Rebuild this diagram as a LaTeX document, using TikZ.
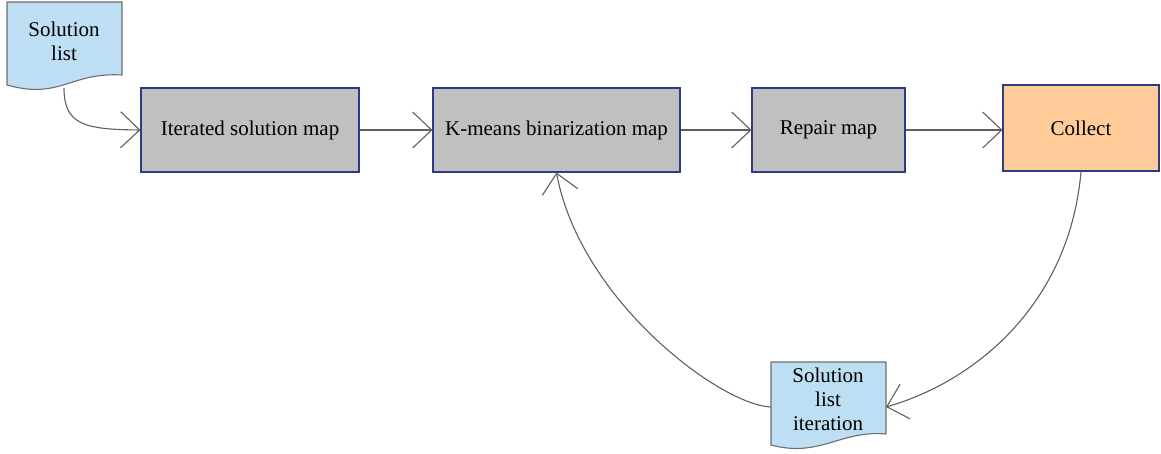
\documentclass[tikz,border=0pt]{standalone}
\usepackage{fontspec}
\setmainfont{Liberation Serif}
\usetikzlibrary{arrows.meta}
\definecolor{boxgray}{RGB}{192,192,192}
\definecolor{boxedge}{RGB}{46,58,135}
\definecolor{docblue}{RGB}{190,222,244}
\definecolor{docedge}{RGB}{110,110,110}
\definecolor{collectfill}{RGB}{255,204,153}
\definecolor{linegray}{RGB}{95,95,95}
\tikzset{
  procbox/.style={draw=boxedge, line width=1.1pt, fill=boxgray, inner sep=0pt, font=\fontsize{21}{24}\selectfont},
  doctext/.style={inner sep=0pt, align=center, font=\fontsize{21}{24}\selectfont},
  docshape/.style={draw=docedge, line width=1.1pt, fill=docblue},
  conn/.style={draw=linegray, line width=1.1pt, -{Straight Barb[length=19pt,width=36pt,line width=1.1pt]}},
}
\begin{document}
\begin{tikzpicture}[x=1pt,y=-1pt]
\useasboundingbox (0,0) rectangle (1161,454);
% Solution list document
\draw[docshape] (7,2) -- (122,2) -- (122,75) .. controls (70,72) and (60,100) .. (7,85) -- cycle;
\node[doctext] (sl) at (64,41) {Solution\\list};
\coordinate (slb) at (64,88);
% Solution list iteration document
\draw[docshape] (771,362) -- (886,362) -- (886,434) .. controls (840,430) and (820,458) .. (771,445) -- cycle;
\node[doctext] (sli) at (828,399) {Solution\\list\\iteration};
\coordinate (slie) at (886,407);
\coordinate (sliw) at (771,407);
% process boxes
\node[procbox, minimum width=218pt, minimum height=84pt] (ism) at (250,130) {Iterated solution map};
\node[procbox, minimum width=247pt, minimum height=84pt] (km) at (556.5,130) {K-means binarization map};
\node[procbox, minimum width=153pt, minimum height=84pt] (rm) at (828.5,130) {Repair map};
\node[procbox, fill=collectfill, minimum width=156pt, minimum height=86pt] (col) at (1081,128) {Collect};
% connectors
\draw[conn] (slb) .. controls (64,125) and (85,129.5) .. (ism.west);
\draw[conn] (ism.east) -- (km.west);
\draw[conn] (km.east) -- (rm.west);
\draw[conn] (rm.east) -- (rm.east -| col.west);
\draw[conn] (col.south) .. controls (1070,300) and (980,380) .. (slie);
\draw[conn] (sliw) .. controls (720,405) and (580,300) .. (km.south);
\end{tikzpicture}
\end{document}
